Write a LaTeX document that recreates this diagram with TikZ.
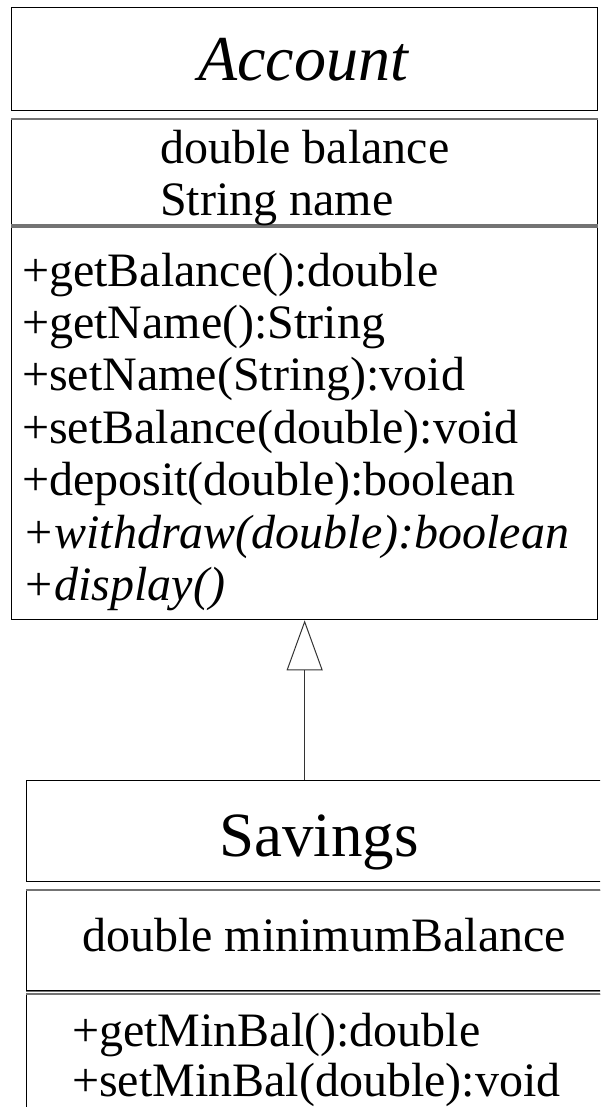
\documentclass[tikz,border=0pt]{standalone}
\usepackage{fontspec}
\setmainfont{Liberation Serif}
\usetikzlibrary{arrows.meta}
\begin{document}
\begin{tikzpicture}[x=1pt,y=-1pt,
  comp/.style={draw=black, line width=1.3pt, inner sep=0pt, anchor=north west, minimum width=#1},
  sepline/.style={draw=black!55, line width=1.6pt},
  txt/.style={font=\fontsize{48}{52}\selectfont, inner sep=0pt, anchor=base west},
  ttl/.style={font=\fontsize{63}{70}\selectfont, inner sep=0pt, anchor=base},
  inherit/.style={-{Triangle[open,length=50pt,width=36pt,line width=1pt]}, line width=1pt, draw=black!80}]
\clip (0,0) rectangle (600,1107);
% Account class
\node[comp=586pt, minimum height=103pt] (accName) at (11,7) {};
\node[comp=586pt, minimum height=105pt] (accAttr) at (11,119) {};
\node[comp=586pt, minimum height=392pt] (accOps) at (11,227) {};
\draw[sepline] (accAttr.north west) -- (accAttr.north east);
\draw[sepline] (accAttr.south west) -- (accAttr.south east);
\draw[sepline] (accOps.north west) -- (accOps.north east);
\node[ttl, font=\fontsize{64}{70}\selectfont\itshape] (accTitle) at (303,81) {Account};
\node[txt] (a1) at (160,164) {double balance};
\node[txt] (a2) at (160,216) {String name};
\node[txt] (m1) at (22,286) {+getBalance():double};
\node[txt] (m2) at (22,338) {+getName():String};
\node[txt] (m3) at (22,390) {+setName(String):void};
\node[txt] (m4) at (22,443) {+setBalance(double):void};
\node[txt] (m5) at (22,495) {+deposit(double):boolean};
\node[txt, font=\fontsize{48}{52}\selectfont\itshape] (m6) at (22,548) {+withdraw(double):boolean};
\node[txt, font=\fontsize{48}{52}\selectfont\itshape] (m7) at (22,600) {+display()};
% Savings class
\node[comp=620pt, minimum height=101pt] (savName) at (26,780) {};
\node[comp=620pt, minimum height=100pt] (savAttr) at (26,890) {};
\node[comp=620pt, minimum height=200pt] (savOps) at (26,994) {};
\draw[sepline] (savAttr.north west) -- (savAttr.north east);
\draw[sepline] (savAttr.south west) -- (savAttr.south east);
\draw[sepline] (savOps.north west) -- (savOps.north east);
\node[ttl] (savTitle) at (319,856) {Savings};
\node[txt] (s1) at (82,951) {double minimumBalance};
\node[txt] (s2) at (72,1046) {+getMinBal():double};
\node[txt] (s3) at (72,1096) {+setMinBal(double):void};
% inheritance
\draw[inherit] (savName.north -| accOps.south) -- (accOps.south);
\end{tikzpicture}
\end{document}
